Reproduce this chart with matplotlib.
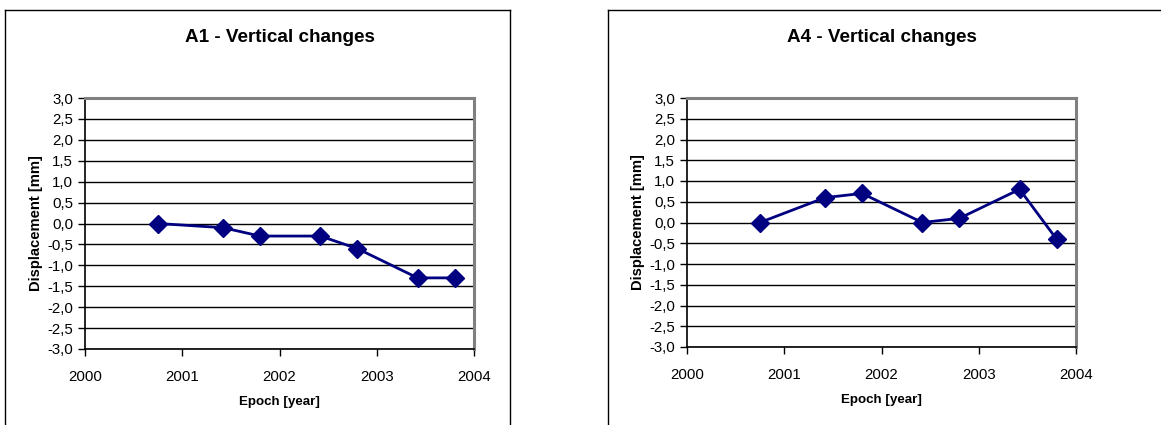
import numpy as np
import matplotlib.pyplot as plt
from matplotlib.ticker import FuncFormatter, MultipleLocator
from matplotlib.lines import Line2D

plt.rcParams['font.family'] = ['Liberation Sans', 'DejaVu Sans']

# Epochs (decimal years) and vertical displacement in mm
epochs = [2000.75, 2001.42, 2001.80, 2002.42, 2002.80, 2003.42, 2003.80]
a1_disp = [0.0, -0.1, -0.3, -0.3, -0.6, -1.3, -1.3]
a4_disp = [0.0, 0.6, 0.7, 0.0, 0.1, 0.8, -0.4]

titles = ["A1 - Vertical changes", "A4 - Vertical changes"]
navy = '#000080'

W, H = 1161, 425
fig = plt.figure(figsize=(W / 100, H / 100), dpi=100)

# axes boxes in pixels: left, top, right, bottom
boxes = [(85, 98, 474, 349), (687, 98, 1076, 347)]
series = [a1_disp, a4_disp]

for (l, t, r, b), disp, title in zip(boxes, series, titles):
    ax = fig.add_axes([l / W, 1 - b / H, (r - l) / W, (b - t) / H])
    ax.plot(epochs, disp, color=navy, lw=2, marker='D', ms=9, mfc=navy, mec=navy, zorder=3)
    ax.set_xlim(2000, 2004)
    ax.set_ylim(-3, 3)
    ax.xaxis.set_major_locator(MultipleLocator(1))
    ax.yaxis.set_major_locator(MultipleLocator(0.5))
    ax.yaxis.set_major_formatter(FuncFormatter(lambda v, p: f"{v:.1f}".replace('.', ',')))
    ax.grid(axis='y', color='black', lw=1)
    ax.set_axisbelow(True)
    for s in ['top', 'right']:
        ax.spines[s].set_color('#808080')
        ax.spines[s].set_linewidth(2.2)
    for s in ['left', 'bottom']:
        ax.spines[s].set_color('black')
        ax.spines[s].set_linewidth(1.2)
    ax.tick_params(direction='out', length=5, width=1, labelsize=10.8, colors='black')
    ax.tick_params(axis='x', pad=10)
    ax.set_xlabel("Epoch [year]", fontsize=9.6, fontweight='bold', labelpad=9)
    ax.set_ylabel("Displacement [mm]", fontsize=10.6, fontweight='bold', labelpad=3)
    fig.text((l + r) / 2 / W, 1 - 37 / H, title, ha='center', va='center',
             fontsize=13.6, fontweight='bold')

# panel frames
def hline(x0, x1, y):
    fig.add_artist(Line2D([x0 / W, x1 / W], [1 - y / H, 1 - y / H], color='black', lw=1))

def vline(x, y0, y1):
    fig.add_artist(Line2D([x / W, x / W], [1 - y0 / H, 1 - y1 / H], color='black', lw=1))

hline(5, 510, 10)
vline(5, 10, 425)
vline(510, 10, 425)
hline(608, 1161, 10)
vline(608, 10, 425)

fig.savefig('out.png', dpi=100)
